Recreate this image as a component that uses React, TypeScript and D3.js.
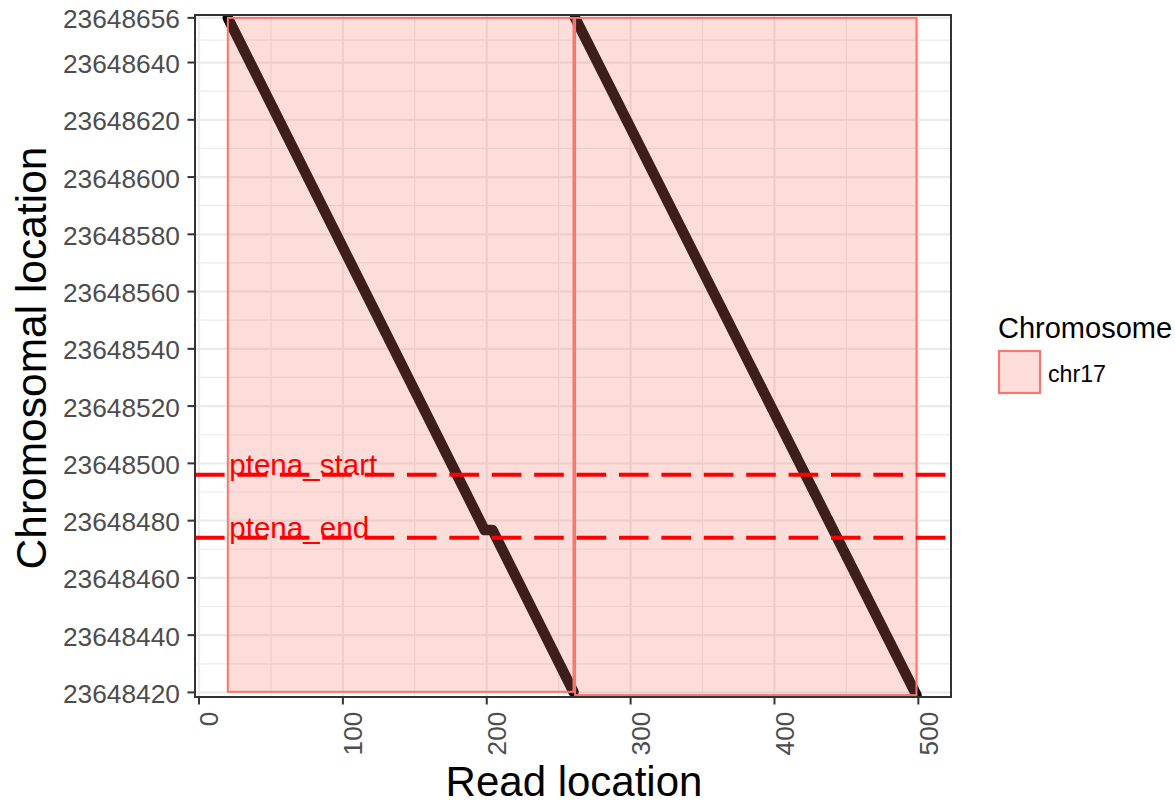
import React from "react";
import * as d3 from "d3";

// ---- data ----
const xTicks = [0, 100, 200, 300, 400, 500];
const xMinor = [50, 150, 250, 350, 450];
const yTicks = [
  23648655.6, 23648640, 23648620, 23648600, 23648580, 23648560, 23648540,
  23648520, 23648500, 23648480, 23648460, 23648440, 23648420,
];
const yMinor = [
  23648647.8, 23648630, 23648610, 23648590, 23648570, 23648550, 23648530,
  23648510, 23648490, 23648470, 23648450, 23648430,
];
const chromosomes = ["chr17"];
// alignment blocks (read start/end, chromosome start/end)
const blockReadStart = [20, 261.4];
const blockReadEnd = [260.3, 498.7];
const blockChrTop = [23648655.6, 23648655.6];
const blockChrBottom = [23648420.2, 23648419.05];
// alignment paths
const path1Read = [20, 198.5, 204, 260.3];
const path1Chr = [23648655.6, 23648476.7, 23648476.7, 23648420.2];
const path2Read = [261.4, 498.7];
const path2Chr = [23648655.6, 23648419.05];
// marker lines
const markerNames = ["ptena_start", "ptena_end"];
const markerChr = [23648496, 23648474];
const markerLabelRead = 21;

const FONT = "'Liberation Sans', Arial, Helvetica, sans-serif";

export default function App() {
  const W = 1175, H = 805;
  const pL = 195, pR = 951, pT = 15, pB = 697;
  const x = d3.scaleLinear().domain([-2.8, 522.7]).range([pL, pR]);
  const y = d3.scaleLinear().domain([23648418.4, 23648656.6]).range([pB, pT]);
  const line = d3
    .line<[number, number]>()
    .x((d) => x(d[0]))
    .y((d) => y(d[1]));
  const p1 = path1Read.map((r, i) => [r, path1Chr[i]] as [number, number]);
  const p2 = path2Read.map((r, i) => [r, path2Chr[i]] as [number, number]);
  const fill = "#F8766D";
  const gridCol = "#EBEBEB";

  return (
    <svg
      width={W}
      height={H}
      style={{ position: "absolute", left: 0, top: 0, background: "#fff" }}
      fontFamily={FONT}
    >
      <defs>
        <clipPath id="panel">
          <rect x={pL} y={pT} width={pR - pL} height={pB - pT} />
        </clipPath>
      </defs>
      <rect x={0} y={0} width={W} height={H} fill="#fff" />
      {/* grid */}
      <g>
        {yMinor.map((v) => (
          <line key={"ym" + v} x1={pL} x2={pR} y1={y(v)} y2={y(v)} stroke={gridCol} strokeWidth={1.2} />
        ))}
        {xMinor.map((v) => (
          <line key={"xm" + v} y1={pT} y2={pB} x1={x(v)} x2={x(v)} stroke={gridCol} strokeWidth={1.2} />
        ))}
        {yTicks.map((v) => (
          <line key={"yM" + v} x1={pL} x2={pR} y1={y(v)} y2={y(v)} stroke={gridCol} strokeWidth={2.2} />
        ))}
        {xTicks.map((v) => (
          <line key={"xM" + v} y1={pT} y2={pB} x1={x(v)} x2={x(v)} stroke={gridCol} strokeWidth={2.2} />
        ))}
      </g>
      <g clipPath="url(#panel)">
        {/* alignment paths */}
        <path d={line(p1) || ""} fill="none" stroke="#000" strokeWidth={10.5} strokeLinecap="round" strokeLinejoin="round" />
        <path d={line(p2) || ""} fill="none" stroke="#000" strokeWidth={10.5} strokeLinecap="round" strokeLinejoin="round" />
        {/* blocks */}
        {blockReadStart.map((r, i) => (
          <rect
            key={"b" + i}
            x={x(r)}
            y={y(blockChrTop[i])}
            width={x(blockReadEnd[i]) - x(r)}
            height={y(blockChrBottom[i]) - y(blockChrTop[i])}
            fill={fill}
            fillOpacity={0.25}
            stroke={fill}
            strokeWidth={2}
          />
        ))}
        {/* marker lines */}
        {markerChr.map((c, i) => (
          <line
            key={"m" + i}
            x1={pL}
            x2={pR}
            y1={y(c)}
            y2={y(c)}
            stroke="#FF0000"
            strokeWidth={4}
            strokeDasharray="29.6 12.8"
          />
        ))}
        {markerChr.map((c, i) => (
          <text key={"mt" + i} x={x(markerLabelRead)} y={y(c)} fill="#FF0000" fontSize={29.6}>
            {markerNames[i]}
          </text>
        ))}
      </g>
      {/* panel border */}
      <rect x={pL} y={pT} width={pR - pL} height={pB - pT} fill="none" stroke="#333333" strokeWidth={2} />
      {/* y axis */}
      {yTicks.map((v) => (
        <g key={"yt" + v}>
          <line x1={pL - 7.5} x2={pL} y1={y(v)} y2={y(v)} stroke="#333333" strokeWidth={2} />
          <text x={180} y={y(v) + 10.5} textAnchor="end" fill="#4D4D4D" fontSize={26.3}>
            {d3.format("d")(Math.round(v))}
          </text>
        </g>
      ))}
      {/* x axis */}
      {xTicks.map((v) => (
        <g key={"xt" + v}>
          <line x1={x(v)} x2={x(v)} y1={pB} y2={pB + 7.5} stroke="#333333" strokeWidth={2} />
          <text
            transform={`translate(${x(v) + 19.3},${711.5}) rotate(-90)`}
            textAnchor="end"
            fill="#4D4D4D"
            fontSize={26.3}
          >
            {v}
          </text>
        </g>
      ))}
      {/* axis titles */}
      <text x={(pL + pR) / 2 + 1} y={796} textAnchor="middle" fontSize={42} fill="#000">
        Read location
      </text>
      <text
        transform={`translate(${46},${358}) rotate(-90)`}
        textAnchor="middle"
        fontSize={42.5}
        fill="#000"
      >
        Chromosomal location
      </text>
      {/* legend */}
      <text x={998} y={338} fontSize={29} fill="#000">
        Chromosome
      </text>
      {chromosomes.map((c, i) => (
        <g key={c}>
          <rect x={999} y={351 + i * 44} width={41} height={42} fill={fill} fillOpacity={0.25} stroke={fill} strokeWidth={2.2} />
          <text x={1048} y={381.5 + i * 44} fontSize={23.2} fill="#000">
            {c}
          </text>
        </g>
      ))}
    </svg>
  );
}
